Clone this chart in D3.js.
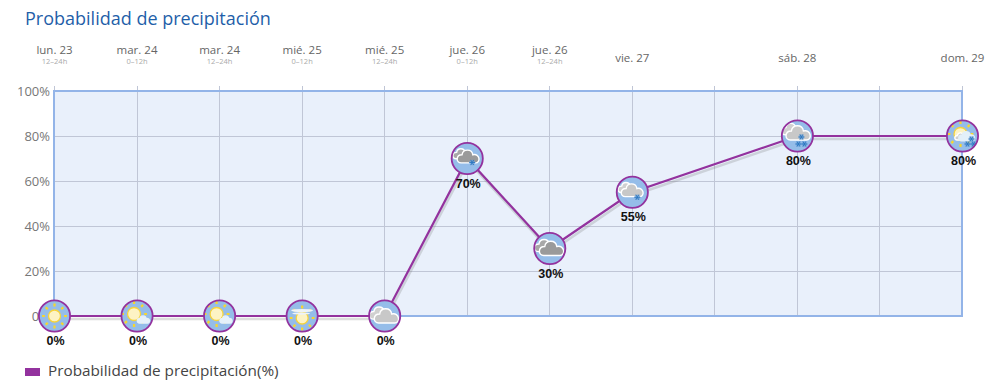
<!DOCTYPE html>
<html><head><meta charset="utf-8">
<script src="https://cdn.jsdelivr.net/npm/d3@7/dist/d3.min.js"></script>
<style>html,body{margin:0;padding:0;background:#fff}svg{display:block}text{font-family:"Open Sans","Noto Sans",sans-serif}</style>
</head><body><svg id="c" width="989" height="387"></svg>
<script>
const titleText="Probabilidad de precipitación";
const legendText="Probabilidad de precipitación(%)";
const slots=[0,1,2,3,4,5,6,7,8,9,10,11];
const days=["lun. 23","mar. 24","mar. 24","mié. 25","mié. 25","jue. 26","jue. 26","vie. 27","sáb. 28","dom. 29"];
const periods=["12–24h","0–12h","12–24h","0–12h","12–24h","0–12h","12–24h","","",""];
const pointSlots=[0,1,2,3,4,5,6,7,9,11];
const values=[0,0,0,0,0,70,30,55,80,80];
const icons=["sun","sunCloud","sunCloud","sunHaze","cloudsLight","cloudsDarkFlake","cloudsDark","cloudsLightFlake","cloudsLightFlakes","sunCloudsFlakes"];
const yTicks=[0,20,40,60,80,100];

const svg=d3.select("#c");
const x=d3.scaleLinear().domain([0,11]).range([54,962]);
const y=d3.scaleLinear().domain([0,100]).range([316,91]);
const purple="#93329e";

svg.append("defs").append("clipPath").attr("id","disc").append("circle").attr("r",15.5);

svg.append("text").attr("x",25).attr("y",25).attr("font-size",18).attr("fill","#1f5fa9").text(titleText);

svg.append("rect").attr("x",x(0)).attr("y",y(100)).attr("width",x(11)-x(0)).attr("height",y(0)-y(100)).attr("fill","#e9f0fb");

svg.append("g").selectAll("line").data(slots).join("line")
  .attr("x1",d=>Math.round(x(d))+.5).attr("x2",d=>Math.round(x(d))+.5).attr("y1",y(100)-5).attr("y2",y(0))
  .attr("stroke","#c0c6d6").attr("stroke-width",1);
svg.append("g").selectAll("line").data(yTicks.filter(d=>d>0&&d<100)).join("line")
  .attr("x1",x(0)).attr("x2",x(11)).attr("y1",d=>y(d)+.5).attr("y2",d=>y(d)+.5)
  .attr("stroke","#c0c6d6").attr("stroke-width",1);
svg.append("rect").attr("x",x(0)).attr("y",y(100)).attr("width",x(11)-x(0)).attr("height",y(0)-y(100))
  .attr("fill","none").attr("stroke","#93b4e8").attr("stroke-width",2);

svg.append("g").selectAll("text").data(yTicks).join("text")
  .attr("x",50).attr("y",d=>y(d)+5).attr("text-anchor","end").attr("font-size",13).attr("fill","#777")
  .text(d=>d+"%");

const hdr=svg.append("g").selectAll("g").data(days).join("g");
hdr.append("text").attr("x",(d,i)=>x(pointSlots[i])+.5).attr("y",(d,i)=>periods[i]?54:62)
  .attr("text-anchor","middle").attr("font-size",11.5).attr("fill","#666").text(d=>d);
hdr.append("text").attr("x",(d,i)=>x(pointSlots[i])+.5).attr("y",64)
  .attr("text-anchor","middle").attr("font-size",7.5).attr("fill","#aaa").text((d,i)=>periods[i]);

const line=d3.line().x(d=>x(d[0])+.5).y(d=>y(d[1]));
const pts=pointSlots.map((s,i)=>[s,values[i]]);
svg.append("path").attr("d",line(pts)).attr("fill","none").attr("stroke","#777").attr("stroke-opacity",.25)
  .attr("stroke-width",2.5).attr("transform","translate(1,3)");
svg.append("path").attr("d",line(pts)).attr("fill","none").attr("stroke",purple).attr("stroke-width",2.2);

function sun(g,cx,cy,r,rays){
  if(rays) d3.range(8).forEach(k=>{const a=k*Math.PI/4;
    g.append("line").attr("x1",cx+Math.cos(a)*(r+3.6)).attr("y1",cy+Math.sin(a)*(r+3.6))
     .attr("x2",cx+Math.cos(a)*(r+6.4)).attr("y2",cy+Math.sin(a)*(r+6.4))
     .attr("stroke","#f7d62e").attr("stroke-width",2.2);});
  g.append("circle").attr("cx",cx).attr("cy",cy).attr("r",r).attr("fill","#fdf3c4").attr("stroke","#f6d33c").attr("stroke-width",1.3);
}
function cloud(g,cx,cy,s,fill,stroke){
  const d=d3.path();
  d.moveTo(cx-9*s,cy+6*s);
  d.bezierCurveTo(cx-15*s,cy+6*s,cx-15*s,cy-3*s,cx-8*s,cy-3*s);
  d.bezierCurveTo(cx-7*s,cy-10*s,cx+3*s,cy-10*s,cx+4*s,cy-3*s);
  d.bezierCurveTo(cx+12*s,cy-5*s,cx+13*s,cy+6*s,cx+7*s,cy+6*s);
  d.closePath();
  g.append("path").attr("d",d.toString()).attr("fill",fill).attr("stroke",stroke).attr("stroke-width",1.4);
}
function flake(g,cx,cy){
  g.append("circle").attr("cx",cx).attr("cy",cy).attr("r",2.8).attr("fill","#6fa4d8").attr("fill-opacity",.7);
  [0,60,120].forEach(a=>{const t=a*Math.PI/180;
    g.append("line").attr("x1",cx-Math.cos(t)*3).attr("y1",cy-Math.sin(t)*3)
     .attr("x2",cx+Math.cos(t)*3).attr("y2",cy+Math.sin(t)*3).attr("stroke","#2a76c0").attr("stroke-width",.9);});
}
const LG="#d0d0d0",LG2="#c8c8c8",DG="#9a9a9a";
const drawIcon={
  sun:g=>sun(g,0,0,6,true),
  sunCloud:g=>{sun(g,-3,-2,6.5,true);cloud(g,7,4,.5,"#e6f1fa","#e6f1fa");},
  sunHaze:g=>{sun(g,0,2,6,true);
    g.append("ellipse").attr("cx",0).attr("cy",-5.5).attr("rx",11).attr("ry",1.6).attr("fill","#eef3f8");
    g.append("ellipse").attr("cx",-1).attr("cy",-2.5).attr("rx",9).attr("ry",1.2).attr("fill","#eef3f8");},
  cloudsLight:g=>{cloud(g,-4,-2,.85,LG,"#fff");cloud(g,3,1,1,LG2,"#fff");},
  cloudsDarkFlake:g=>{cloud(g,-5,-4,.7,"#a8a8a8","#fff");cloud(g,2,-1,.9,DG,"#fff");flake(g,5,4);},
  cloudsDark:g=>{cloud(g,-4,-2,.85,"#a8a8a8","#fff");cloud(g,3,1,1,DG,"#fff");},
  cloudsLightFlake:g=>{cloud(g,-5,-4,.7,LG,"#fff");cloud(g,1,-1,.9,LG2,"#fff");flake(g,5,5);},
  cloudsLightFlakes:g=>{cloud(g,-5,-6,.8,LG,"#fff");cloud(g,2,-2,1,LG2,"#fff");flake(g,4,1);flake(g,1,8);flake(g,7,8);},
  sunCloudsFlakes:g=>{sun(g,-2,-2,6.5,true);cloud(g,-1,1,.5,LG,"#fff");cloud(g,5,1,.65,"#e3f0fa","#e3f0fa");flake(g,9,3);flake(g,5,8);flake(g,11,8);}
};

const node=svg.append("g").selectAll("g").data(pts).join("g")
  .attr("transform",d=>`translate(${x(d[0])+.5},${y(d[1])})`);
node.append("circle").attr("r",15.5).attr("fill","#95bde9");
node.each(function(d,i){
  const g=d3.select(this).append("g").attr("clip-path","url(#disc)");
  drawIcon[icons[i]](g);
});
node.append("circle").attr("r",15.6).attr("fill","none").attr("stroke",purple).attr("stroke-width",1.8);
node.append("text").attr("y",29).attr("x",1).attr("text-anchor","middle").attr("font-size",12.5).attr("font-weight",700).attr("fill","#111")
  .style("font-family","'Liberation Sans',sans-serif").text((d,i)=>values[i]+"%");

svg.append("rect").attr("x",25).attr("y",368).attr("width",15).attr("height",8).attr("fill",purple);
svg.append("text").attr("x",48).attr("y",376).attr("font-size",15.3).attr("fill","#444").text(legendText);
</script></body></html>
